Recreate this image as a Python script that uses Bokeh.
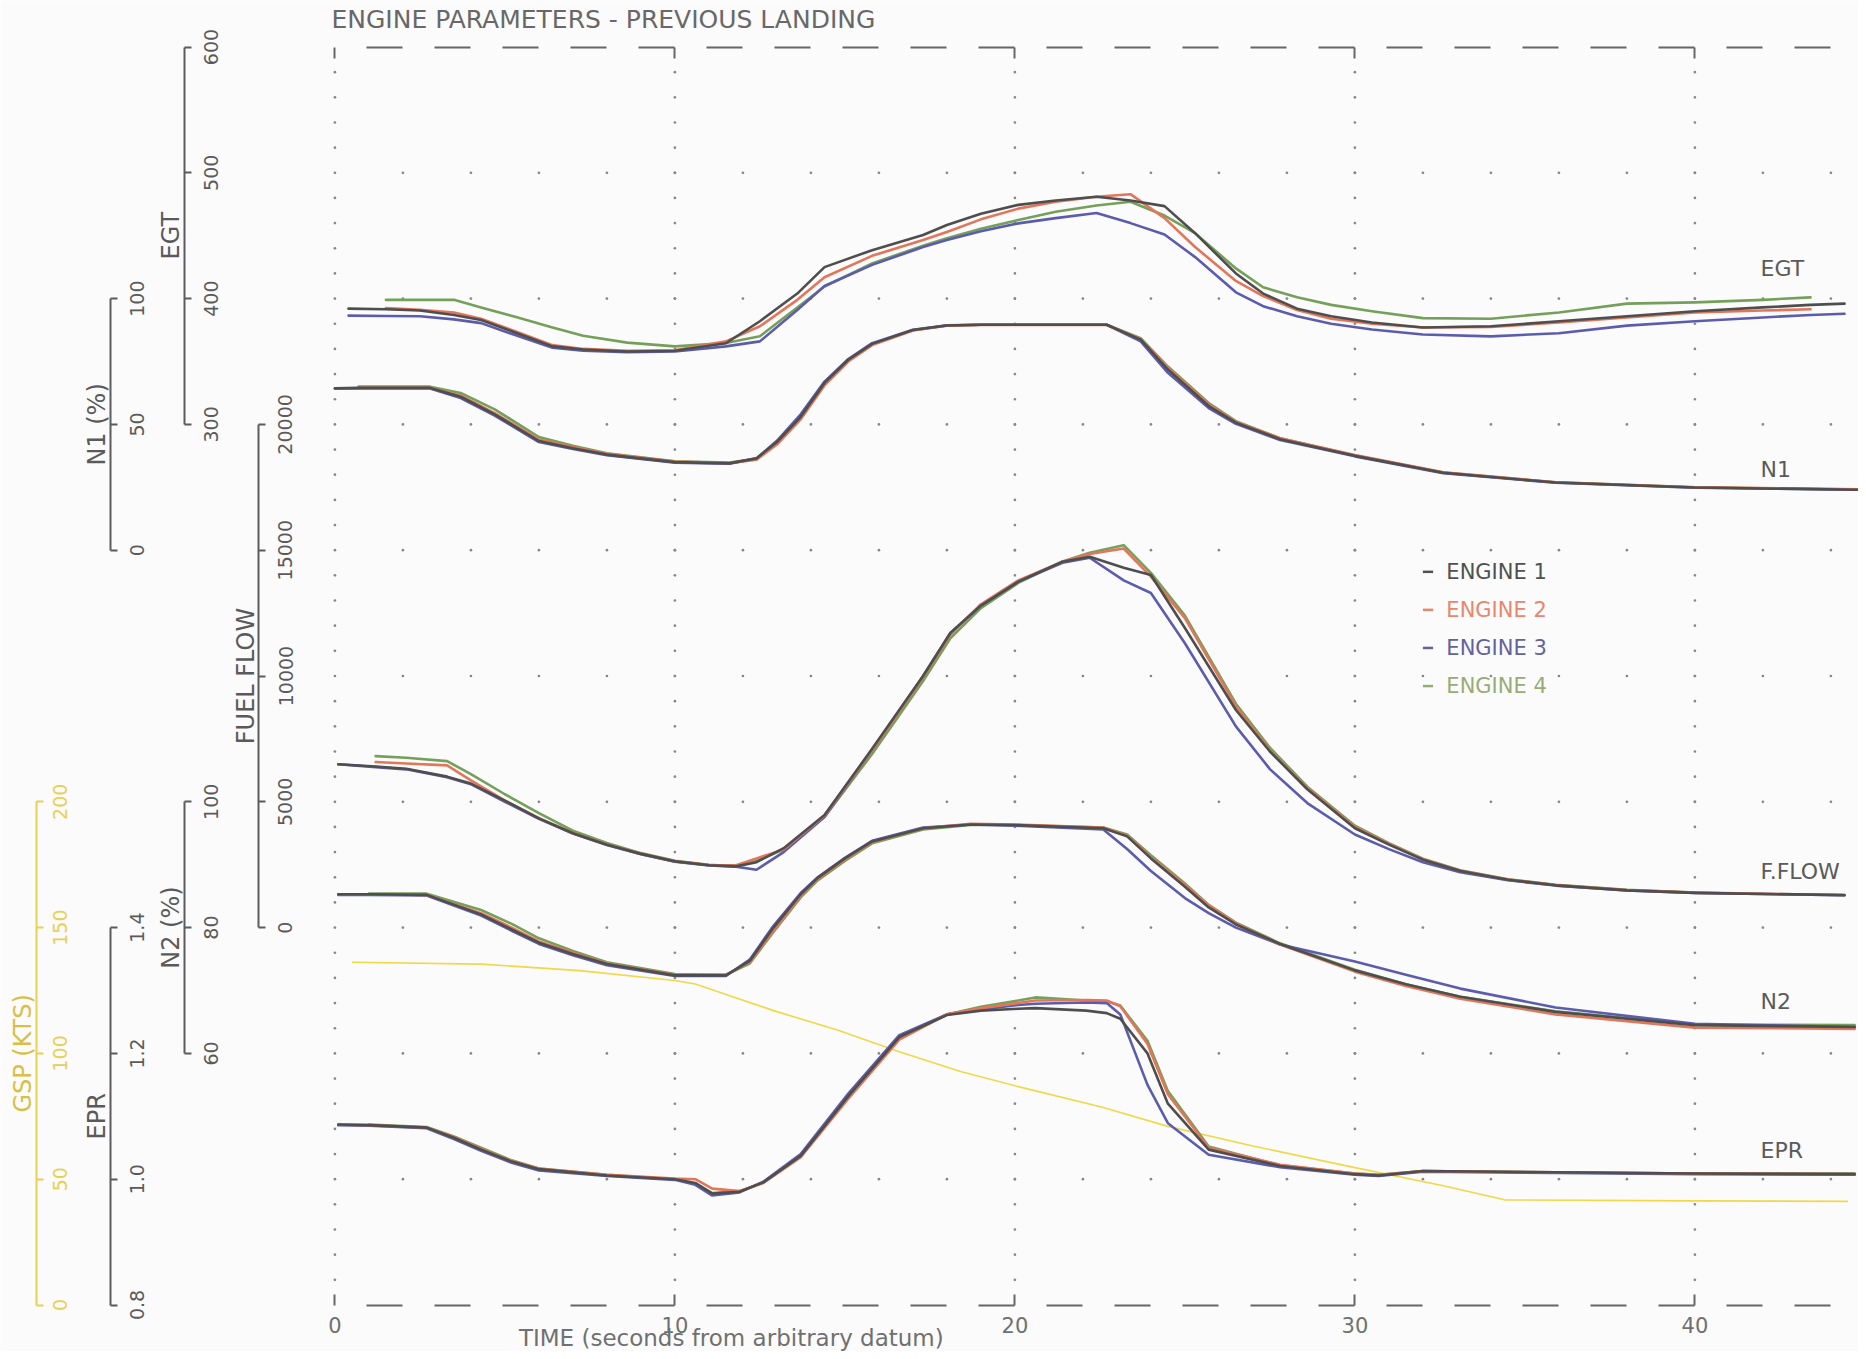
import numpy as np
from bokeh.plotting import figure
from bokeh.models import Range1d, LinearAxis, FixedTicker, PrintfTickFormatter
from bokeh.core.properties import value
from bokeh.embed import file_html
from bokeh.resources import INLINE

nan = float("nan")

# ---------------- data ----------------
engines = ["ENGINE 1", "ENGINE 2", "ENGINE 3", "ENGINE 4"]

# EGT (deg C)
egt_t = [0.4, 1.5, 2.5, 3.5, 4.3, 5.3, 6.4, 7.3, 8.6, 10.0, 11.5, 12.5, 13.6, 14.4, 15.8, 17.3, 18.0, 19.0,
         20.1, 21.2, 22.4, 23.4, 24.4, 25.3, 26.5, 27.3, 28.3, 29.3, 30.5, 32.0, 34.0, 36.0, 38.0, 40.0, 42.0, 43.4, 44.4]
egt_e1 = [392, 391.5, 390.6, 387, 383, 373, 362, 359.5, 358, 358.5, 364.5, 382, 404, 425, 438.5, 450.5, 458.5, 467.5,
          474.5, 478, 481, 478, 473.5, 452, 420, 404, 392, 386, 381, 377, 378, 382, 386, 390, 393, 395, 396]
egt_e2 = [nan, 392.5, 391, 389, 384, 374, 363, 360, 358.5, 359, 366, 378, 399, 417, 434, 446.5, 453, 463,
          471.5, 477, 481, 483, 464, 441, 414, 402, 391, 384, 380, 377, 377.5, 381, 385, 389, 390.5, 391.5, nan]
egt_e3 = [386.5, 386.2, 386, 383.5, 380.5, 371, 361, 358.5, 357.3, 357.9, 362, 366, 391, 410, 426.8, 441, 446.6, 453.5,
          459.8, 464, 468, 460, 451, 433, 405, 394, 386, 380, 375.5, 371.5, 370, 372.5, 378.5, 382, 385, 387, 388]
egt_e4 = [nan, 399, 399, 399, 393, 385.5, 377, 370.5, 365, 362, 364.7, 370, 393, 409.6, 428, 442, 448, 455.5,
          462.5, 469, 474, 477, 466, 452, 424, 409, 401, 395, 390, 384.5, 384, 389, 396, 397, 399, 401, nan]

# N1 (%)
n1_t = [0, 0.7, 2.8, 3.7, 4.7, 6.0, 7.0, 8.0, 10.0, 11.6, 12.4, 13.0, 13.7, 14.4, 15.1, 15.8, 17.0, 18.0, 19.0,
        22.7, 23.7, 24.5, 25.7, 26.5, 27.8, 30.0, 32.6, 35.9, 40.0, 45.0]
n1_e1 = [64.3, 64.5, 64.5, 61, 54, 43.4, 40.5, 38, 35, 34.5, 36.5, 43, 53, 66.5, 75.7, 82, 87.5, 89.3, 89.6,
         89.6, 83.7, 71.8, 57.3, 50.7, 44.1, 37.5, 30.8, 26.9, 24.9, 24]
n1_e2 = [nan, 64.5, 64.5, 61.5, 54.5, 44, 41, 38.3, 35.2, 34.6, 36, 42, 52, 65.5, 75, 81.5, 87.3, 89.2, 89.5,
         89.5, 84, 72.5, 58, 51, 44.5, 37.8, 31, 27, 25, 24.2]
n1_e3 = [64.3, 64.3, 64.3, 60.5, 53.5, 43, 40.2, 37.8, 34.8, 34.4, 36.5, 43.5, 54, 67, 76, 82.3, 87.6, 89.4, 89.6,
         89.6, 83, 70.5, 56.5, 50.2, 43.8, 37.3, 30.6, 26.8, 24.8, 24]
n1_e4 = [nan, 65, 65, 62.5, 56, 45, 41.5, 38.5, 35.3, 34.8, 36.3, 42.5, 52.5, 66, 75.5, 81.8, 87.4, 89.3, 89.6,
         89.6, 84.3, 73, 58.5, 51.3, 44.5, 37.6, 30.9, 27, 25, 24.1]

# Fuel flow
ff_t = [0.1, 1.2, 2.1, 3.3, 4.0, 5.0, 6.0, 7.0, 8.0, 9.0, 10.0, 11.0, 11.8, 12.4, 13.2, 14.4, 15.8, 17.3, 18.1,
        19.0, 20.1, 21.4, 22.2, 23.2, 24.0, 25.0, 26.5, 27.5, 28.6, 30.0, 31.0, 32.0, 33.1, 34.5, 35.9, 38.0, 40.0, 44.4]
ff_e1 = [6490, 6400, 6316, 6000, 5724, 5050, 4342, 3750, 3289, 2930, 2632, 2480, 2434, 2600, 3158, 4474, 7105, 10000,
         11711, 12800, 13750, 14540, 14737, 14300, 14013, 11908, 8650, 7000,
         5500, 3950, 3300, 2700, 2250, 1900, 1680, 1480, 1380, 1289]
ff_e2 = [nan, 6579, 6520, 6447, 5850, 5050, 4350, 3760, 3300, 2940, 2640, 2490, 2480, 2750, 3100, 4450, 7050, 9950,
         11650, 12850, 13800, 14540, 14850, 15066, 13950, 12300, 8800, 7050,
         5550, 4000, 3330, 2720, 2260, 1910, 1690, 1490, 1390, 1295]
ff_e3 = [6490, 6380, 6290, 5980, 5700, 5000, 4320, 3740, 3280, 2920, 2620, 2470, 2420, 2300, 3000, 4400, 7050, 10000,
         11700, 12800, 13750, 14500, 14700, 13800, 13300, 11300, 8000, 6300,
         4950, 3700, 3120, 2600, 2200, 1880, 1670, 1475, 1380, 1285]
ff_e4 = [nan, 6816, 6750, 6618, 6100, 5300, 4550, 3850, 3360, 2960, 2660, 2500, 2440, 2650, 3100, 4400, 6900, 9800,
         11500, 12700, 13700, 14550, 14900, 15200, 14100, 12400, 8900, 7150,
         5600, 4050, 3360, 2740, 2280, 1920, 1700, 1500, 1395, nan]

# N2 (%)
n2_t = [0.1, 1.0, 2.7, 4.3, 5.2, 6.0, 7.0, 8.0, 10.0, 11.5, 12.2, 12.9, 13.7, 14.2, 15.0, 15.8, 17.3, 18.7, 20.0,
        22.6, 23.3, 24.0, 25.0, 25.7, 26.5, 27.8, 30.0, 31.5, 33.1, 35.9, 40.0, 44.7]
n2_e1 = [85.3, 85.3, 85.2, 82.1, 79.7, 77.6, 75.8, 74.2, 72.4, 72.4, 74.7, 80, 85.3, 87.9, 91, 93.7, 95.8, 96.4, 96.3,
         95.8, 94.5, 91, 86.5, 83.2, 80.5, 77.4, 73.2, 71, 69, 66.6, 64.5, 64.2]
n2_e2 = [85.3, 85.3, 85.2, 82.3, 80, 77.8, 76, 74.3, 72.5, 72.5, 74.5, 79.5, 85, 87.7, 90.8, 93.6, 95.8, 96.5, 96.4,
         95.9, 94.6, 91.2, 86.8, 83.5, 80.7, 77.3, 73, 70.7, 68.7, 66.2, 64.1, 63.9]
n2_e3 = [85.2, 85.2, 85.1, 81.9, 79.5, 77.4, 75.6, 74, 72.3, 72.3, 74.9, 80.3, 85.5, 88, 91.1, 93.8, 95.9, 96.4, 96.2,
         95.6, 92.5, 89, 84.7, 82.3, 80, 77.3, 74.6, 72.5, 70.3, 67.3, 64.7, 64.2]
n2_e4 = [nan, 85.4, 85.4, 82.8, 80.6, 78.3, 76.3, 74.5, 72.6, 72.5, 74.3, 79.3, 84.8, 87.5, 90.6, 93.4, 95.6, 96.3, 96.3,
         95.9, 94.8, 91.5, 87, 83.6, 80.8, 77.5, 73.3, 71, 69, 66.7, 64.6, 64.5]

# EPR
epr_t = [0.1, 1.0, 2.7, 3.5, 4.3, 5.2, 6.0, 8.0, 10.0, 10.6, 11.1, 11.9, 12.6, 13.7, 15.1, 16.6, 18.0, 19.0, 20.1,
         20.6, 22.1, 22.7, 23.1, 23.9, 24.5, 25.7, 27.8, 30.0, 30.7, 32.0, 35.9, 40.0, 44.7]
epr_e1 = [1.087, 1.086, 1.082, 1.066, 1.047, 1.028, 1.016, 1.006, 1.000, 0.994, 0.977, 0.980, 0.995, 1.037, 1.132,
          1.226, 1.261, 1.268, 1.271, 1.272, 1.268, 1.264, 1.255, 1.200, 1.120, 1.047, 1.021, 1.008, 1.006, 1.013,
          1.011, 1.009, 1.008]
epr_e2 = [1.087, 1.086, 1.082, 1.067, 1.048, 1.029, 1.017, 1.007, 1.001, 1.000, 0.985, 0.981, 0.994, 1.035, 1.128,
          1.222, 1.262, 1.272, 1.280, 1.284, 1.285, 1.284, 1.275, 1.215, 1.135, 1.050, 1.023, 1.009, 1.007, 1.013,
          1.011, 1.009, 1.008]
epr_e3 = [1.086, 1.085, 1.081, 1.064, 1.045, 1.026, 1.014, 1.005, 0.999, 0.991, 0.974, 0.979, 0.996, 1.040, 1.136,
          1.229, 1.262, 1.270, 1.277, 1.279, 1.281, 1.280, 1.262, 1.150, 1.089, 1.039, 1.019, 1.007, 1.005, 1.012,
          1.010, 1.008, 1.007]
epr_e4 = [nan, 1.087, 1.083, 1.068, 1.050, 1.030, 1.017, 1.007, 1.000, 0.993, 0.978, 0.981, 0.995, 1.036, 1.130,
          1.224, 1.262, 1.274, 1.284, 1.289, 1.284, 1.283, 1.276, 1.220, 1.140, 1.052, 1.022, 1.009, 1.007, 1.013,
          1.011, 1.009, 1.009]

# Ground speed (kts)
gsp_t = [0.5, 4.3, 7.2, 10.0, 10.6, 12.9, 14.8, 16.6, 18.4, 20.1, 22.6, 24.5, 27.0, 30.0, 32.6, 34.4, 40.0, 44.5]
gsp_v = [136.2, 135.5, 132.9, 129.0, 127.6, 117.0, 109.2, 100.7, 92.8, 86.8, 78.5, 71.0, 63.2, 54.6, 47.4, 41.8, 41.4, 41.2]

# tick values / labels
time_ticks = [0, 10, 20, 30, 40]
gsp_ticks = [0, 50, 100, 150, 200]
n1_ticks = [0, 50, 100]
epr_ticks = [0.8, 1.0, 1.2, 1.4]
egt_ticks = [300, 400, 500, 600]
n2_ticks = [60, 80, 100]
ff_ticks = [0, 5000, 10000, 15000, 20000]

title_text = "ENGINE PARAMETERS - PREVIOUS LANDING"
time_label = "TIME (seconds from arbitrary datum)"
trace_names = ["EGT", "N1", "F.FLOW", "N2", "EPR"]

# ---------------- layout / styling ----------------
W, H = 1858, 1351
PX_S = 34.0      # px per second
X0 = 334.4       # t = 0 offset from canvas left
PX_U = 125.8     # px per band unit
Y0 = 1304.5      # u = 0 offset from canvas top

t_min, t_max = -X0 / PX_S, (W - X0) / PX_S
u_min, u_max = -(H - Y0) / PX_U, Y0 / PX_U

# u = u_ref + (v - v_ref) / per_u
scales = {"gsp": (0, 0, 50), "n1": (6, 0, 50), "epr": (0, 0.8, 0.2),
          "egt": (7, 300, 100), "n2": (2, 60, 20), "ff": (3, 0, 5000)}

C_AX = "#5c5c5c"
C_TXT = "#5a5a5a"
C_GSP = "#e9cf52"
eng_colors = ["#4e4e4e", "#e2765a", "#5c5cae", "#74a05a"]
leg_colors = ["#505050", "#e8866e", "#62629c", "#98ac76"]
FONT = value("DejaVu Sans")

p = figure(width=W, height=H, x_range=Range1d(t_min, t_max), y_range=Range1d(u_min, u_max),
           output_backend="svg", toolbar_location=None, x_axis_location=None, y_axis_location=None,
           min_border=0, background_fill_color="#fbfbfb", border_fill_color="#fbfbfb",
           outline_line_color=None)
for g in p.grid:
    g.visible = False

p.extra_y_ranges = {k: Range1d(vr + (u_min - ur) * pu, vr + (u_max - ur) * pu)
                    for k, (ur, vr, pu) in scales.items()}

# ---- dotted grid ----
gx, gy = [], []
for tv in time_ticks:
    for k in range(1, 50):
        gx.append(tv); gy.append(k * 0.2)
for uv in range(1, 10):
    for tv in range(2, 45, 2):
        gx.append(tv); gy.append(uv)
p.scatter(gx, gy, size=2.7, color="#888888", line_color=None)

# ---- dashed top / bottom time axes ----
def time_axis(loc, side, labels):
    ax = LinearAxis(fixed_location=loc, bounds=(0, 44.2), ticker=FixedTicker(ticks=time_ticks))
    ax.axis_line_color = "#666666"; ax.axis_line_width = 2
    ax.axis_line_dash = "36 32"; ax.axis_line_dash_offset = 36
    ax.major_tick_in = 11; ax.major_tick_out = 0
    ax.major_tick_line_color = "#666666"; ax.major_tick_line_width = 2
    ax.minor_tick_in = 0; ax.minor_tick_out = 0
    ax.major_label_text_font = "DejaVu Sans"
    ax.major_label_text_font_size = "21px"
    ax.major_label_text_color = "#707070"
    ax.major_label_standoff = 12
    if not labels:
        ax.major_label_overrides = {v: "" for v in time_ticks}
    p.add_layout(ax, side)

time_axis(0, "below", True)
time_axis(10, "above", False)

# ---- parameter scale brackets ----
axes_spec = [
    ("gsp", gsp_ticks, -8.785, C_GSP, -31, None),
    ("n1", n1_ticks, -6.609, C_AX, -34, None),
    ("epr", epr_ticks, -6.609, C_AX, -34, "%.1f"),
    ("egt", egt_ticks, -4.438, C_AX, -34, None),
    ("n2", n2_ticks, -4.438, C_AX, -34, None),
    ("ff", ff_ticks, -2.247, C_AX, -34, None),
]
axis_titles = {"gsp": "GSP (KTS)", "n1": "N1 (%)", "epr": "EPR", "egt": "EGT", "n2": "N2 (%)", "ff": "FUEL FLOW"}
for key, ticks, tloc, col, stand, fmt in axes_spec:
    ax = LinearAxis(y_range_name=key, fixed_location=tloc, bounds=(ticks[0], ticks[-1]),
                    ticker=FixedTicker(ticks=ticks))
    if fmt:
        ax.formatter = PrintfTickFormatter(format=fmt)
    ax.axis_line_color = col; ax.axis_line_width = 2
    ax.major_tick_in = 7; ax.major_tick_out = 0
    ax.major_tick_line_color = col; ax.major_tick_line_width = 2
    ax.minor_tick_in = 0; ax.minor_tick_out = 0
    ax.major_label_orientation = "vertical"
    ax.major_label_standoff = stand
    ax.major_label_text_font = "DejaVu Sans"
    ax.major_label_text_font_size = "19px"
    ax.major_label_text_color = col if key == "gsp" else "#5a5a5a"
    p.add_layout(ax, "left")

# axis titles, left of each bracket, reading upward
ttl_x, ttl_y, ttl_s, ttl_c = [], [], [], []
for key, ticks, tloc, col, stand, fmt in axes_spec:
    ur, vr, pu = scales[key]
    umid = ur + ((ticks[0] + ticks[-1]) / 2 - vr) / pu
    ttl_x.append(tloc + 1 / PX_S); ttl_y.append(umid)
    ttl_s.append(axis_titles[key]); ttl_c.append("#d8bf48" if key == "gsp" else C_TXT)
p.text(x=ttl_x, y=ttl_y, text=ttl_s, text_color=ttl_c, angle=np.pi / 2, text_align="center",
       text_baseline="bottom", text_font=FONT, text_font_size="24px")

# ---- engine traces ----
series = {
    "egt": (egt_t, [egt_e1, egt_e2, egt_e3, egt_e4]),
    "n1": (n1_t, [n1_e1, n1_e2, n1_e3, n1_e4]),
    "ff": (ff_t, [ff_e1, ff_e2, ff_e3, ff_e4]),
    "n2": (n2_t, [n2_e1, n2_e2, n2_e3, n2_e4]),
    "epr": (epr_t, [epr_e1, epr_e2, epr_e3, epr_e4]),
}
p.line(gsp_t, gsp_v, y_range_name="gsp", line_color="#f0d848", line_width=1.6)
for key, (tt, vals) in series.items():
    for i in [3, 2, 1, 0]:
        p.line(np.array(tt, float), np.array(vals[i], float), y_range_name=key,
               line_color=eng_colors[i], line_width=2.6, line_join="round", line_cap="round")

# ---- trace names at right ----
name_u = [8.24, 6.64, 3.445, 2.41, 1.228]
p.text(x=[41.93] * 5, y=name_u, text=trace_names, text_color=C_TXT, text_align="left",
       text_baseline="middle", text_font=FONT, text_font_size="22px")

# ---- legend ----
leg_u = [5.828, 5.526, 5.223, 4.920]
p.segment(x0=[32.0] * 4, y0=leg_u, x1=[32.3] * 4, y1=leg_u, line_color=leg_colors, line_width=2.5)
p.text(x=[32.69] * 4, y=leg_u, text=engines, text_color=leg_colors, text_align="left",
       text_baseline="middle", text_font=FONT, text_font_size="21px")

# ---- title & time label ----
p.text(x=[-0.1], y=[10.22], text=[title_text], text_color="#686868", text_align="left",
       text_baseline="middle", text_font=FONT, text_font_size="25px")
p.text(x=[11.66], y=[-0.266], text=[time_label], text_color="#707070", text_align="center",
       text_baseline="middle", text_font=FONT, text_font_size="23px")

open("out.html", "w").write(file_html(p, INLINE))
